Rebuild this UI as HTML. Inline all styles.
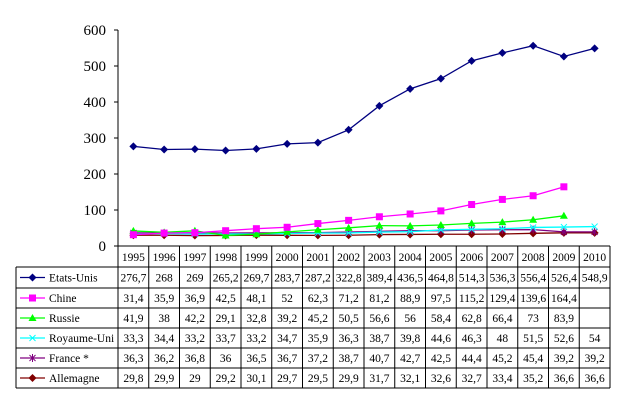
<!DOCTYPE html>
<html><head><meta charset="utf-8"><style>
html,body{margin:0;padding:0;background:#fff}
svg, svg text{font-family:"Liberation Serif","Times New Roman","DejaVu Serif",serif}
</style></head><body>
<svg id="c" width="625" height="403" viewBox="0 0 625 403" xmlns="http://www.w3.org/2000/svg" font-family="Liberation Serif, serif"></svg>
<script>
const years=["1995","1996","1997","1998","1999","2000","2001","2002","2003","2004","2005","2006","2007","2008","2009","2010"];
const etatsUnis=[276.7,268,269,265.2,269.7,283.7,287.2,322.8,389.4,436.5,464.8,514.3,536.3,556.4,526.4,548.9];
const chine=[31.4,35.9,36.9,42.5,48.1,52,62.3,71.2,81.2,88.9,97.5,115.2,129.4,139.6,164.4,null];
const russie=[41.9,38,42.2,29.1,32.8,39.2,45.2,50.5,56.6,56,58.4,62.8,66.4,73,83.9,null];
const royaumeUni=[33.3,34.4,33.2,33.7,33.2,34.7,35.9,36.3,38.7,39.8,44.6,46.3,48,51.5,52.6,54];
const france=[36.3,36.2,36.8,36,36.5,36.7,37.2,38.7,40.7,42.7,42.5,44.4,45.2,45.4,39.2,39.2];
const allemagne=[29.8,29.9,29,29.2,30.1,29.7,29.5,29.9,31.7,32.1,32.6,32.7,33.4,35.2,36.6,36.6];
const yTicks=[0,100,200,300,400,500,600];
const seriesNames=["Etats-Unis","Chine","Russie","Royaume-Uni","France *","Allemagne"];
const seriesData=[etatsUnis,chine,russie,royaumeUni,france,allemagne];
const seriesColors=["#000080","#ff00ff","#00ff00","#00ffff","#800080","#800000"];
const seriesMarkers=["diamond","square","triangle","x","star","diamond"];

const svg=document.getElementById('c');
const NS="http://www.w3.org/2000/svg";
const FF="Liberation Serif, Times New Roman, serif";
const X0=118,CW=30.75,Y0=246,Y600=30;
const xs=i=>X0+CW*(i+0.5);
const ys=v=>Y0-(v/600)*(Y0-Y600);
function el(t,a,p){const e=document.createElementNS(NS,t);for(const k in a)e.setAttribute(k,a[k]);if(t==='text')e.setAttribute('font-family',FF);(p||svg).appendChild(e);return e;}

const ax=el('line',{x1:X0,y1:Y600,x2:X0,y2:Y0,stroke:'#000','stroke-width':1});


yTicks.forEach(t=>{
  const y=ys(t);
  const tk=el('line',{x1:X0-4,y1:y,x2:X0,y2:y,stroke:'#000'});
  
  
  const tx=el('text',{x:X0-12,y:y+5,'text-anchor':'end','font-size':15});
  tx.textContent=t;
  
  
});

function marker(type,x,y,c,g){
  let m;
  if(type==='diamond')m=el('polygon',{points:`${x},${y-4} ${x+4},${y} ${x},${y+4} ${x-4},${y}`,fill:c},g);
  else if(type==='square')m=el('rect',{x:x-3.5,y:y-3.5,width:7,height:7,fill:c},g);
  else if(type==='triangle')m=el('polygon',{points:`${x},${y-4} ${x+4},${y+3} ${x-4},${y+3}`,fill:c},g);
  else if(type==='x'){m=el('path',{d:`M${x-3} ${y-3}L${x+3} ${y+3}M${x+3} ${y-3}L${x-3} ${y+3}`,stroke:c,'stroke-width':1},g);}
  else {m=el('path',{d:`M${x-3} ${y-3}L${x+3} ${y+3}M${x+3} ${y-3}L${x-3} ${y+3}M${x} ${y-4}L${x} ${y+4}`,stroke:c,'stroke-width':1},g);}
  
  
}

for(let s=seriesData.length-1;s>=0;s--){
  const g=el('g',{});
  
  
  const pts=[];
  seriesData[s].forEach((v,i)=>{if(v!==null)pts.push([xs(i),ys(v)]);});
  const pl=el('polyline',{points:pts.map(p=>p.join(',')).join(' '),fill:'none',stroke:seriesColors[s],'stroke-width':1.3},g);
  
  
  pts.forEach(p=>marker(seriesMarkers[s],p[0],p[1],seriesColors[s],g));
}

const RT=[246,267,288,308,328,348,368,388];
const TL=16,TR=X0+CW*16;
const tg=el('g',{});


el('line',{x1:X0,y1:RT[0],x2:TR,y2:RT[0],stroke:'#000'},tg);
for(let r=1;r<RT.length;r++)el('line',{x1:TL,y1:RT[r],x2:TR,y2:RT[r],stroke:'#000'},tg);
el('line',{x1:TL,y1:RT[1],x2:TL,y2:RT[7],stroke:'#000'},tg);
for(let c=0;c<=16;c++)el('line',{x1:X0+CW*c,y1:RT[0],x2:X0+CW*c,y2:RT[7],stroke:'#000'},tg);
years.forEach((y,i)=>{
  const t=el('text',{x:xs(i),y:RT[0]+15,'text-anchor':'middle','font-size':11.5},tg);
  t.textContent=y;
  
  
});
seriesNames.forEach((n,s)=>{
  const cy=(RT[s+1]+RT[s+2])/2;
  const lg=el('g',{},tg);
  
  
  el('line',{x1:20,y1:cy,x2:45,y2:cy,stroke:seriesColors[s],'stroke-width':1.3},lg);
  marker(seriesMarkers[s],32.5,cy,seriesColors[s],lg);
  const t=el('text',{x:49,y:cy+4,'font-size':11.5},lg);
  t.textContent=n;
  seriesData[s].forEach((v,i)=>{
    if(v===null)return;
    const c=el('text',{x:xs(i),y:cy+4,'text-anchor':'middle','font-size':11.5},tg);
    c.textContent=String(v).replace('.',',');
    
    
  });
});
</script>
</body></html>
